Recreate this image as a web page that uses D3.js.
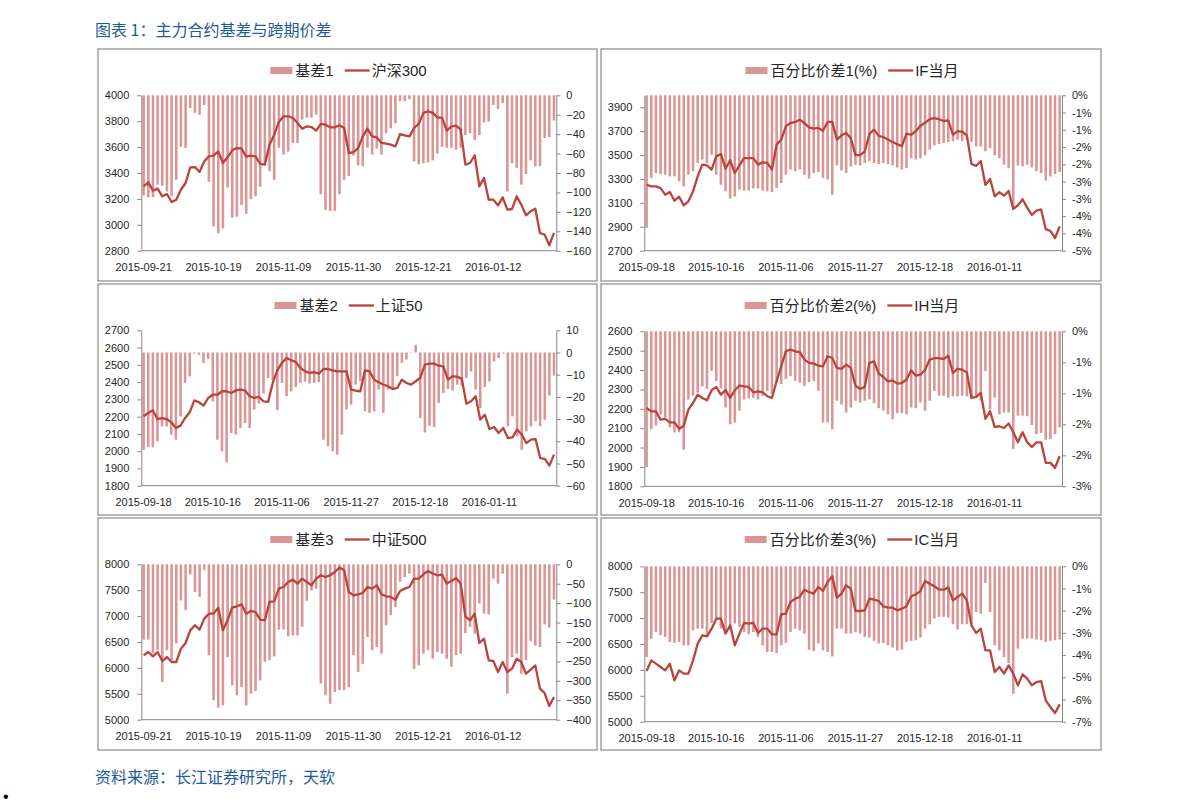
<!DOCTYPE html>
<html><head><meta charset="utf-8">
<script src="https://cdn.jsdelivr.net/npm/d3@7"></script>
<style>
body{margin:0;background:#fff;}
svg{display:block;}
text{font-family:"Liberation Sans",Arial,"Noto Sans CJK SC",sans-serif;}
</style>
</head><body><svg id="c" width="1191" height="806"></svg>
<script>
// ---------- categories ----------
const dates90 = ["2015-09-18","2015-09-21","2015-09-22","2015-09-23","2015-09-24","2015-09-25","2015-09-28","2015-09-29","2015-09-30",
"2015-10-08","2015-10-09","2015-10-12","2015-10-13","2015-10-14","2015-10-15","2015-10-16","2015-10-19","2015-10-20","2015-10-21","2015-10-22","2015-10-23","2015-10-26","2015-10-27","2015-10-28","2015-10-29","2015-10-30",
"2015-11-02","2015-11-03","2015-11-04","2015-11-05","2015-11-06","2015-11-09","2015-11-10","2015-11-11","2015-11-12","2015-11-13","2015-11-16","2015-11-17","2015-11-18","2015-11-19","2015-11-20","2015-11-23","2015-11-24","2015-11-25","2015-11-26","2015-11-27","2015-11-30",
"2015-12-01","2015-12-02","2015-12-03","2015-12-04","2015-12-07","2015-12-08","2015-12-09","2015-12-10","2015-12-11","2015-12-14","2015-12-15","2015-12-16","2015-12-17","2015-12-18","2015-12-21","2015-12-22","2015-12-23","2015-12-24","2015-12-25","2015-12-28","2015-12-29","2015-12-30","2015-12-31",
"2016-01-04","2016-01-05","2016-01-06","2016-01-07","2016-01-08","2016-01-11","2016-01-12","2016-01-13","2016-01-14","2016-01-15","2016-01-18","2016-01-19","2016-01-20","2016-01-21","2016-01-22","2016-01-25","2016-01-26","2016-01-27","2016-01-28","2016-01-29"];
const dates89 = dates90.slice(1);
const xTicksA = ["2015-09-21","2015-10-19","2015-11-09","2015-11-30","2015-12-21","2016-01-12"];
const xTicksB = ["2015-09-18","2015-10-16","2015-11-06","2015-11-27","2015-12-18","2016-01-11"];

// ---------- panel 1: 基差1 / 沪深300 ----------
const basis1 = [-103,-105,-105,-92,-93,-99,-104,-87,-53,-54,-13,-18,-20,-10,-89,-135,-142,-137,-95,-126,-125,-113,-122,-107,-104,-94,-71,-78,-87,-54,-61,-58,-49,-49,-25,-23,-23,-20,-102,-118,-119,-119,-102,-87,
-83,-62,-72,-73,-54,-61,-55,-61,-39,-34,-29,-6,-6,-4,-68,-71,-70,-69,-67,-60,-53,-54,-54,-56,-54,-41,-39,-46,-41,-28,-27,-10,-14,-8,-99,-70,-75,-92,-81,-67,-73,-73,-44,-43,-26];
const hs300 = [3297,3328,3264,3279,3220,3238,3176,3194,3271,3323,3444,3446,3408,3490,3529,3534,3567,3477,3521,3575,3593,3588,3526,3534,3529,3470,3464,3619,3696,3794,3838,3838,3825,3786,3742,3760,3755,3727,3779,3773,3753,3753,3768,3747,
3554,3562,3593,3683,3742,3683,3676,3632,3627,3619,3606,3701,3691,3683,3748,3779,3864,3876,3864,3830,3825,3727,3760,3766,3735,3464,3477,3537,3297,3361,3194,3194,3150,3212,3117,3122,3220,3155,3073,3104,3124,2937,2924,2841,2937];
const ticksL1 = [2800,3000,3200,3400,3600,3800,4000];
const ticksR1 = [0,-20,-40,-60,-80,-100,-120,-140,-160];

// ---------- panel 2: 百分比价差1(%) / IF当月 ----------
const pct1 = [-3.84,-2.39,-2.25,-2.28,-2.30,-2.35,-2.35,-2.49,-2.64,-2.30,-2.20,-1.96,-1.86,-1.96,-1.72,-2.30,-2.59,-2.78,-2.99,-2.93,-2.73,-2.76,-2.76,-2.70,-2.70,-2.76,-2.78,-2.80,-2.68,-2.54,-2.30,-2.15,-2.20,-2.15,-2.30,-2.41,-2.25,-2.22,-2.39,-2.44,-2.88,-2.03,-2.18,-2.25,
-2.06,-2.01,-2.03,-1.96,-1.91,-1.96,-1.99,-1.96,-1.99,-2.03,-2.09,-2.15,-2.11,-1.82,-1.86,-1.82,-1.74,-1.57,-1.45,-1.41,-1.38,-1.35,-1.33,-1.29,-1.33,-1.29,-1.35,-1.48,-1.48,-1.62,-1.53,-1.74,-1.82,-2.01,-2.11,-3.31,-2.03,-2.06,-2.01,-2.09,-2.20,-2.25,-2.47,-2.35,-2.28,-2.22];
const ifMonth = [3252,3238,3238,3224,3169,3191,3118,3152,3079,3113,3196,3322,3420,3414,3378,3489,3509,3386,3456,3350,3414,3475,3475,3475,3420,3439,3434,3378,3587,3629,3741,3768,3777,3796,3768,3732,3721,3727,3704,3777,3777,3629,3665,3685,
3640,3500,3500,3530,3676,3713,3660,3650,3630,3610,3590,3575,3680,3670,3700,3745,3770,3800,3810,3800,3785,3790,3670,3700,3695,3665,3425,3410,3450,3250,3300,3155,3190,3160,3200,3050,3080,3130,3060,3000,3035,3045,2880,2865,2806,2904];
const ticksL2 = [2700,2900,3100,3300,3500,3700,3900];
const ticksR2 = [0,-0.5,-1,-1.5,-2,-2.5,-3,-3.5,-4,-4.5];
const labelsR2 = ["0%","-1%","-1%","-2%","-2%","-3%","-3%","-4%","-4%","-5%"];

// ---------- panel 3: 基差2 / 上证50 ----------
const basis2 = [-43.8,-42.6,-42.7,-40.0,-33.3,-33.3,-37.0,-39.3,-28.8,-13.7,-10.8,-0.5,-1.0,-4.7,-2.9,-22.0,-39.3,-44.5,-49.5,-36.3,-37.0,-34.0,-31.8,-34.0,-25.7,-23.0,-18.5,-11.5,-12.5,-26.0,-13.7,-19.7,-17.5,-15.5,-13.7,-13.1,-14.0,-13.7,-13.4,-39.3,-42.3,-44.5,-46.0,-37.0,
-25.7,-23.5,-14.5,-13.0,-26.5,-27.2,-26.5,-16.7,-27.2,-16.7,-16.0,-10.7,-4.7,-3.2,-0.2,3.5,-29.5,-36.0,-33.0,-33.6,-22.7,-18.2,-16.4,-17.0,-14.5,-14.9,-11.5,-8.5,-16.7,-25.0,-15.5,-13.0,-4.0,-2.5,-0.5,-33.3,-28.8,-37.8,-43.8,-35.5,-33.3,-31.0,-33.3,-30.3,-19.4,-10.4];
const sz50 = [2202,2221,2237,2186,2192,2186,2167,2134,2148,2192,2225,2294,2283,2264,2308,2327,2327,2347,2347,2337,2352,2356,2352,2318,2308,2314,2289,2285,2395,2468,2511,2540,2526,2517,2482,2462,2453,2457,2449,2476,2476,2468,2462,2462,
2462,2356,2350,2347,2468,2462,2414,2399,2385,2376,2360,2366,2414,2395,2385,2405,2424,2501,2507,2507,2495,2491,2414,2434,2430,2420,2275,2289,2318,2183,2211,2128,2140,2105,2134,2076,2080,2125,2096,2047,2067,2070,1960,1955,1916,1980];
const ticksL3 = [1800,1900,2000,2100,2200,2300,2400,2500,2600,2700];
const ticksR3 = [10,0,-10,-20,-30,-40,-50,-60];

// ---------- panel 4: 百分比价差2(%) / IH当月 ----------
const pct2 = [-2.19,-1.58,-1.52,-1.34,-1.39,-1.55,-1.63,-1.63,-1.91,-1.10,-1.04,-0.99,-0.89,-0.93,-0.64,-0.80,-0.92,-1.23,-1.50,-1.47,-1.28,-1.10,-1.08,-1.07,-1.10,-1.04,-0.96,-1.01,-0.83,-0.85,-0.77,-0.72,-0.80,-0.83,-0.88,-0.82,-0.80,-0.96,-1.47,-1.47,-1.58,-1.12,-1.18,-1.31,
-1.23,-1.12,-1.15,-1.12,-1.10,-1.16,-1.24,-1.28,-1.34,-1.42,-1.32,-1.32,-1.34,-1.23,-1.24,-1.15,-1.28,-1.12,-0.96,-1.04,-1.04,-1.07,-1.05,-1.05,-1.04,-1.05,-1.07,-1.07,-1.12,-0.64,-1.26,-1.07,-1.34,-1.31,-1.31,-1.90,-1.36,-1.36,-1.37,-1.51,-1.66,-1.64,-1.75,-1.74,-1.66,-1.55];
const ihMonth = [2204,2187,2187,2144,2148,2130,2130,2096,2113,2196,2230,2273,2256,2244,2296,2313,2273,2296,2256,2296,2320,2316,2313,2285,2290,2285,2265,2256,2342,2419,2497,2505,2497,2492,2454,2437,2433,2423,2419,2471,2462,2411,2406,2428,
2411,2320,2302,2313,2437,2445,2382,2364,2342,2347,2330,2333,2351,2399,2371,2376,2402,2454,2462,2462,2457,2474,2385,2406,2402,2388,2256,2261,2282,2148,2187,2106,2110,2101,2124,2079,2027,2079,2027,2003,2027,2027,1921,1921,1895,1955];
const ticksL4 = [1800,1900,2000,2100,2200,2300,2400,2500,2600];
const ticksR4 = [0,-0.5,-1,-1.5,-2,-2.5];
const labelsR4 = ["0%","-1%","-1%","-2%","-2%","-3%"];

// ---------- panel 5: 基差3 / 中证500 ----------
const basis3 = [-194,-194,-230,-221,-303,-221,-247,-204,-93,-118,-26,-71,-84,-14,-234,-350,-369,-363,-239,-312,-337,-316,-363,-333,-326,-299,-251,-247,-237,-168,-168,-185,-183,-183,-161,-94,-67,-63,-307,-337,-359,-329,-324,-324,
-316,-234,-277,-256,-187,-221,-213,-230,-157,-131,-110,-45,-33,-24,-269,-260,-230,-221,-243,-226,-230,-243,-264,-234,-230,-177,-161,-179,-101,-127,-129,-37,-50,-24,-333,-239,-230,-282,-247,-197,-209,-213,-155,-163,-91];
const zz500 = [6242,6307,6223,6307,6133,6210,6114,6114,6371,6481,6725,6822,6738,6951,7047,7047,7163,6725,6918,7163,7189,7227,7047,7099,7079,6931,6918,7273,7285,7530,7562,7659,7704,7627,7723,7659,7594,7723,7788,7755,7788,7852,7936,7884,
7466,7401,7421,7446,7562,7530,7594,7421,7382,7369,7318,7485,7530,7562,7723,7723,7807,7871,7820,7788,7800,7627,7678,7736,7627,6996,6918,7047,6481,6564,6146,6133,5921,6114,5921,5985,6178,6114,5888,5966,6049,5599,5515,5264,5438];
const ticksL5 = [5000,5500,6000,6500,7000,7500,8000];
const ticksR5 = [0,-50,-100,-150,-200,-250,-300,-350,-400];

// ---------- panel 6: 百分比价差3(%) / IC当月 ----------
const pct3 = [-4.09,-3.26,-2.96,-3.11,-3.18,-3.41,-3.45,-3.41,-3.56,-3.56,-2.88,-2.81,-2.81,-3.18,-2.55,-2.36,-2.81,-2.96,-2.85,-2.58,-2.73,-2.96,-3.06,-2.96,-3.18,-3.56,-3.86,-3.86,-3.91,-3.56,-3.45,-2.96,-2.81,-2.88,-3.03,-3.76,-3.82,-3.48,-3.79,-3.86,-4.06,-2.81,-2.81,-3.03,
-3.03,-2.96,-3.03,-3.18,-3.21,-3.36,-3.48,-3.45,-3.56,-3.66,-3.79,-3.76,-3.41,-3.36,-3.33,-3.21,-2.81,-2.61,-2.36,-2.28,-2.28,-2.31,-2.61,-2.85,-2.61,-2.61,-2.61,-2.06,-2.13,-0.75,-2.06,-3.56,-3.79,-4.09,-4.36,-5.74,-3.71,-3.26,-3.26,-3.26,-3.30,-3.33,-3.41,-3.36,-3.33,-3.30];
const icMonth = [5979,6184,6120,6056,5991,6120,5798,5991,5927,5927,6184,6506,6667,6648,6796,6989,6989,6700,6860,6474,6700,6906,6893,6906,6712,6796,6796,6687,6687,7073,7086,7311,7376,7408,7549,7504,7472,7601,7524,7697,7807,7395,7472,7633,
7569,7137,7137,7150,7376,7356,7330,7227,7202,7202,7150,7182,7227,7421,7459,7524,7717,7665,7614,7549,7549,7588,7343,7408,7472,7343,6860,6712,6796,6378,6378,5959,6056,5927,6088,5927,5702,5914,5830,5702,5766,5785,5412,5283,5167,5335];
const ticksL6 = [5000,5500,6000,6500,7000,7500,8000];
const ticksR6 = [0,-1,-2,-3,-4,-5,-6,-7];
const labelsR6 = ["0%","-1%","-2%","-3%","-4%","-5%","-6%","-7%"];

// ---------- title / source ----------
const titleText = "图表 1：主力合约基差与跨期价差";
const sourceText = "资料来源：长江证券研究所，天软";

// ---------- layout ----------
const BAR = "#D99694", LINE = "#B8433F", AXIS = "#868686", TXT = "#262626", BLUE = "#1F5C9E";
const panels = [
  {box:[98,49,597,281], plot:[141.3,95.3,556.3,250.7], cats:dates89, xt:xTicksA, bars:basis1, line:hs300, lb:"基差1", ll:"沪深300",
   lDom:[2800,4000], lT:ticksL1, rDom:[-160,0], rT:ticksR1, rL:null},
  {box:[601,49,1101,281], plot:[644.3,95.3,1062,250.7], cats:dates90, xt:xTicksB, bars:pct1, line:ifMonth, lb:"百分比价差1(%)", ll:"IF当月",
   lDom:[2700,4000], lT:ticksL2, rDom:[-4.5,0], rT:ticksR2, rL:labelsR2},
  {box:[98,284,597,515], plot:[141.3,330.3,556.3,485.7], cats:dates90, xt:xTicksB, bars:basis2, line:sz50, lb:"基差2", ll:"上证50",
   lDom:[1800,2700], lT:ticksL3, rDom:[-60,10], rT:ticksR3, rL:null},
  {box:[601,284,1101,515], plot:[644.3,331.3,1062,486.3], cats:dates90, xt:xTicksB, bars:pct2, line:ihMonth, lb:"百分比价差2(%)", ll:"IH当月",
   lDom:[1800,2600], lT:ticksL4, rDom:[-2.5,0], rT:ticksR4, rL:labelsR4},
  {box:[98,518,597,750], plot:[141.3,564.3,556.3,719.7], cats:dates89, xt:xTicksA, bars:basis3, line:zz500, lb:"基差3", ll:"中证500",
   lDom:[5000,8000], lT:ticksL5, rDom:[-400,0], rT:ticksR5, rL:null},
  {box:[601,518,1101,750], plot:[644.3,566.3,1062,721.7], cats:dates90, xt:xTicksB, bars:pct3, line:icMonth, lb:"百分比价差3(%)", ll:"IC当月",
   lDom:[5000,8000], lT:ticksL6, rDom:[-7,0], rT:ticksR6, rL:labelsR6}
];

const svg = d3.select("#c");
svg.append("rect").attr("width",1191).attr("height",806).attr("fill","#fff");

svg.append("text").attr("x",95).attr("y",36).attr("fill",BLUE)
  .style("font-family","'Noto Sans CJK SC',sans-serif").style("font-size","16px").text(titleText);
svg.append("text").attr("x",95).attr("y",783).attr("fill",BLUE)
  .style("font-family","'Noto Sans CJK SC',sans-serif").style("font-size","16px").text(sourceText);
svg.append("text").attr("x",3).attr("y",802).attr("fill","#000").style("font-size","16px").text("•");

panels.forEach(p => {
  const [bx0,by0,bx1,by1] = p.box;
  const [x0,y0,x1,y1] = p.plot;
  const g = svg.append("g");
  g.append("rect").attr("x",bx0).attr("y",by0).attr("width",bx1-bx0).attr("height",by1-by0)
    .attr("fill","#fff").attr("stroke","#8a8a8a").attr("stroke-width",1.2);

  const x = d3.scaleBand().domain(p.cats).range([x0,x1]).paddingInner(0.45).paddingOuter(0.225);
  const yL = d3.scaleLinear().domain(p.lDom).range([y1,y0]);
  const yR = d3.scaleLinear().domain(p.rDom).range([y1,y0]);

  // bars (hang from 0 of right axis)
  g.append("g").selectAll("rect").data(p.bars).join("rect")
    .attr("x",(d,i)=>x(p.cats[i]))
    .attr("width",x.bandwidth())
    .attr("y",d=>Math.min(yR(0),yR(d)))
    .attr("height",d=>Math.abs(yR(d)-yR(0)))
    .attr("fill",BAR);

  // line
  const lineGen = d3.line().x((d,i)=>x(p.cats[i])+x.bandwidth()/2).y(d=>yL(d)).curve(d3.curveLinear);
  g.append("path").datum(p.line).attr("d",lineGen).attr("fill","none")
    .attr("stroke",LINE).attr("stroke-width",2.3).attr("stroke-linejoin","round");

  // axes
  const aL = g.append("g").attr("transform",`translate(${x0},0)`)
    .call(d3.axisLeft(yL).tickValues(p.lT).tickSize(4).tickSizeOuter(0).tickPadding(8).tickFormat(d3.format("d")));
  const aR = g.append("g").attr("transform",`translate(${x1},0)`)
    .call(d3.axisRight(yR).tickValues(p.rT).tickSize(4).tickSizeOuter(0).tickPadding(6)
      .tickFormat((d,i)=>p.rL ? p.rL[i] : d3.format("d")(d)));
  const aB = g.append("g").attr("transform",`translate(0,${y1})`)
    .call(d3.axisBottom(x).tickValues(p.xt).tickSize(0).tickPadding(13));
  [aL,aR,aB].forEach(a=>{
    a.select(".domain").attr("stroke",AXIS).attr("stroke-width",1);
    a.selectAll(".tick line").attr("stroke",AXIS);
    a.selectAll("text").attr("fill",TXT).style("font-size","11px")
      .style("font-family","'Liberation Sans',Arial,sans-serif");
  });
  aB.select(".domain").attr("d",`M${x0},0H${x1}`);

  // legend
  const cx = (bx0+bx1)/2, ly = by0 + 21.5;
  const lg = g.append("g");
  lg.append("rect").attr("x",0).attr("y",ly-3.5).attr("width",22).attr("height",7).attr("fill",BAR);
  const t1 = lg.append("text").attr("x",25).attr("y",ly).attr("dy","0.36em").attr("fill",TXT)
    .style("font-size","15px").text(p.lb);
  const w1 = t1.node().getComputedTextLength();
  const lx = 25 + w1 + 11;
  lg.append("line").attr("x1",lx).attr("x2",lx+25).attr("y1",ly).attr("y2",ly)
    .attr("stroke",LINE).attr("stroke-width",2.3);
  const t2 = lg.append("text").attr("x",lx+27).attr("y",ly).attr("dy","0.36em").attr("fill",TXT)
    .style("font-size","15px").text(p.ll);
  const w2 = t2.node().getComputedTextLength();
  const total = lx + 27 + w2;
  lg.attr("transform",`translate(${cx - total/2 + 1},0)`);
});
</script>
</body></html>
